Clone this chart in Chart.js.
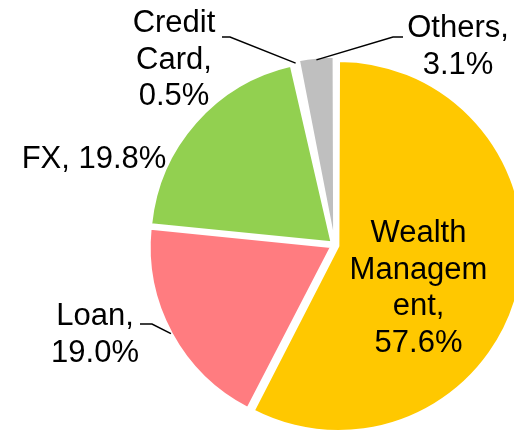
<!DOCTYPE html>
<html>
<head>
<meta charset="utf-8">
<script src="https://cdn.jsdelivr.net/npm/chart.js@4.4.1/dist/chart.umd.min.js"></script>
<style>
html,body{margin:0;padding:0;background:#fff;}
#wrap{width:514px;height:431px;position:relative;}
</style>
</head>
<body>
<div id="wrap"><canvas id="c"></canvas></div>
<script>
// ---- data ----
const categories = ["Wealth Management", "Loan", "FX", "Credit Card", "Others"];
const shares = [57.6, 19.0, 19.8, 0.5, 3.1];
const labelTexts = [
  ["Wealth", "Managem", "ent,", "57.6%"],
  ["Loan,", "19.0%"],
  ["FX, 19.8%"],
  ["Credit", "Card,", "0.5%"],
  ["Others,", "3.1%"]
];

// ---- styles / layout ----
const colors = ["#FFC800", "#FF7C80", "#92D050", "#FFFFFF", "#BFBFBF"];
const FONT = '31px "Liberation Sans", Arial, sans-serif';
const LINE_H = 36.6;
// label block: center x, first baseline
const labelPos = [
  {x: 418.5, y: 242},
  {x: 95, y: 325},
  {x: 94, y: 168},
  {x: 174, y: 32},
  {x: 458, y: 37}
];
// leader: start point and elbow; end is computed on the arc
const leaders = {
  1: [[140, 324], [152, 324]],
  3: [[222, 37], [230, 37]],
  4: [[403, 37], [393, 37]]
};

const labelPlugin = {
  id: 'labels',
  afterDatasetsDraw(chart) {
    const ctx = chart.ctx;
    const meta = chart.getDatasetMeta(0);
    ctx.save();
    ctx.strokeStyle = '#000';
    ctx.lineWidth = 1.5;
    Object.keys(leaders).forEach(k => {
      const i = +k;
      const arc = meta.data[i];
      const p = arc.getProps(['x','y','startAngle','endAngle','outerRadius'], true);
      const mid = (p.startAngle + p.endAngle) / 2;
      const off = (arc.options.offset || 0) / 4;
      const r = p.outerRadius + 1;
      const ex = p.x + Math.cos(mid) * (off + r);
      const ey = p.y + Math.sin(mid) * (off + r);
      const pts = leaders[k];
      ctx.beginPath();
      ctx.moveTo(pts[0][0], pts[0][1]);
      ctx.lineTo(pts[1][0], pts[1][1]);
      ctx.lineTo(ex, ey);
      ctx.stroke();
    });
    ctx.fillStyle = '#000';
    ctx.font = FONT;
    ctx.textAlign = 'center';
    ctx.textBaseline = 'alphabetic';
    labelTexts.forEach((lines, i) => {
      const lp = labelPos[i];
      lines.forEach((t, j) => ctx.fillText(t, lp.x, lp.y + j * LINE_H));
    });
    ctx.restore();
  }
};

new Chart(document.getElementById('c'), {
  type: 'pie',
  data: {
    labels: categories,
    datasets: [{
      data: shares,
      backgroundColor: colors,
      borderColor: '#FFFFFF',
      borderWidth: 2,
      offset: 16
    }]
  },
  options: {
    responsive: true,
    maintainAspectRatio: false,
    animation: false,
    radius: 181,
    layout: {padding: {left: 155, top: 59, right: 0, bottom: 0}},
    plugins: {legend: {display: false}, tooltip: {enabled: false}}
  },
  plugins: [labelPlugin]
});
</script>
</body>
</html>
